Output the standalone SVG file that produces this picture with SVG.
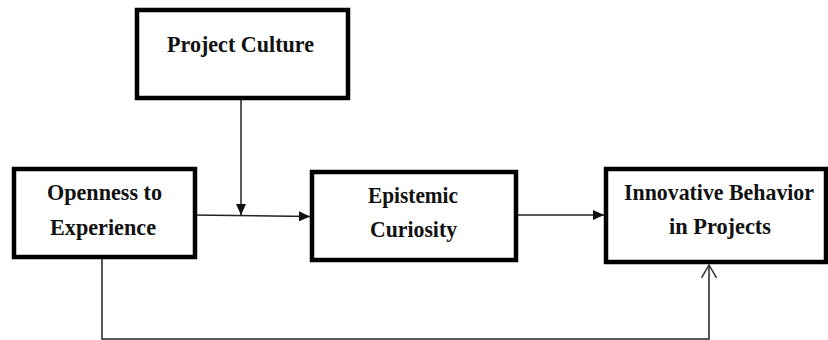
<svg xmlns="http://www.w3.org/2000/svg" width="828" height="340" viewBox="0 0 828 340">
<style>
.box{fill:#fff;stroke:#000;stroke-width:4.5}
.lbl{font-family:"Liberation Serif","Times New Roman",serif;font-weight:bold;font-size:24px;fill:#111;text-anchor:middle}
.ln{fill:none;stroke:#222;stroke-width:1.5}
</style>
<defs>
<marker id="fa" markerWidth="12" markerHeight="10" refX="11" refY="5" orient="auto" markerUnits="userSpaceOnUse"><path d="M0,0 L11,5 L0,10 Z" fill="#111"/></marker>
<marker id="oa" markerWidth="16" markerHeight="16" refX="14" refY="8" orient="auto" markerUnits="userSpaceOnUse"><path d="M1,0.5 L14,8 L1,15.5" fill="none" stroke="#333" stroke-width="1.5"/></marker>
</defs>
<rect width="828" height="340" fill="#fff"/>
<g id="connectors">
<line class="ln" x1="241" y1="100" x2="241" y2="215" marker-end="url(#fa)"/>
<line class="ln" x1="192" y1="215" x2="310" y2="216.5" marker-end="url(#fa)"/>
<line class="ln" x1="518" y1="215" x2="604" y2="215" marker-end="url(#fa)"/>
<polyline class="ln" points="102,259 102,339 709,339 709,265" marker-end="url(#oa)"/>
</g>
<g id="project-culture">
<rect class="box" x="137" y="10" width="211" height="88"/>
<text class="lbl" x="240.5" y="52" textLength="147" lengthAdjust="spacingAndGlyphs">Project Culture</text>
</g>
<g id="openness">
<rect class="box" x="14" y="169" width="181" height="88"/>
<text class="lbl" x="104.5" y="200" textLength="115" lengthAdjust="spacingAndGlyphs">Openness to</text>
<text class="lbl" x="103" y="235" textLength="106" lengthAdjust="spacingAndGlyphs">Experience</text>
</g>
<g id="epistemic">
<rect class="box" x="312" y="172" width="204" height="88"/>
<text class="lbl" x="413" y="203" textLength="90" lengthAdjust="spacingAndGlyphs">Epistemic</text>
<text class="lbl" x="413.5" y="237" textLength="87" lengthAdjust="spacingAndGlyphs">Curiosity</text>
</g>
<g id="innovative">
<rect class="box" x="606" y="169" width="220" height="93"/>
<text class="lbl" x="719" y="200" style="font-size:23px" textLength="190" lengthAdjust="spacingAndGlyphs">Innovative Behavior</text>
<text class="lbl" x="720" y="234" textLength="102" lengthAdjust="spacingAndGlyphs">in Projects</text>
</g>
</svg>
